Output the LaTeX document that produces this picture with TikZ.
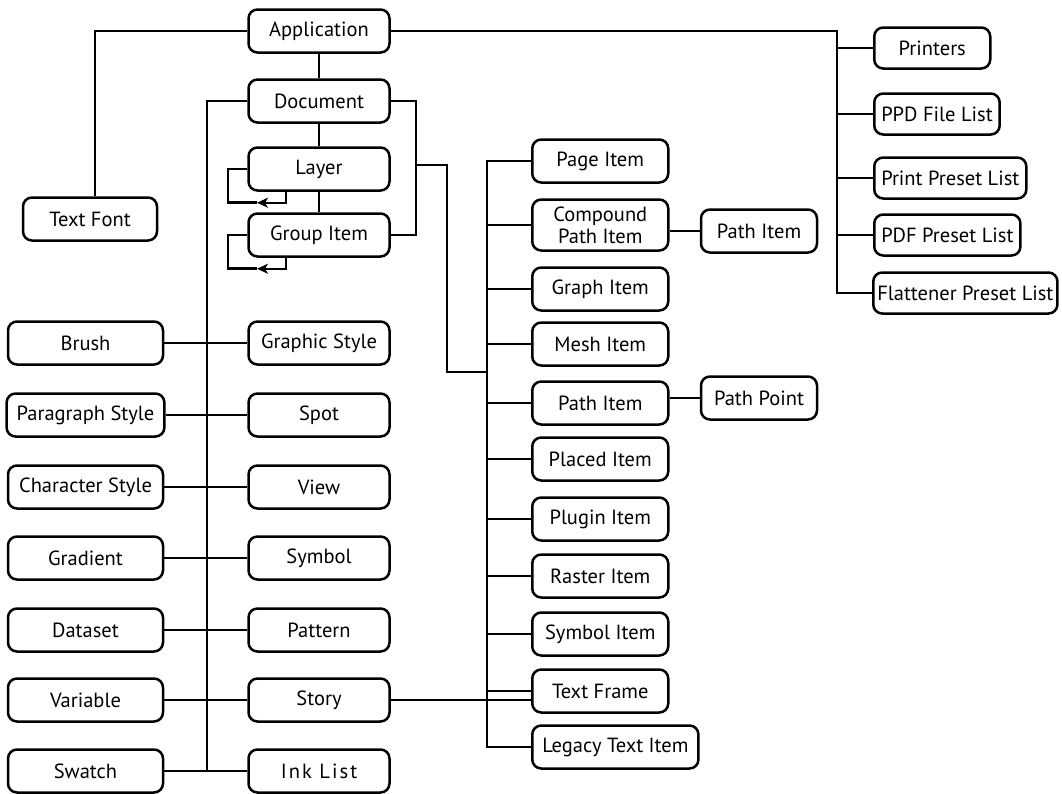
\documentclass[tikz,border=0pt]{standalone}
\usepackage{fontspec}
\setmainfont{PT Sans}
\usetikzlibrary{arrows.meta}

\tikzset{
  obj/.style={draw, rounded corners=9pt, line width=2.5pt, minimum height=43pt,
    inner xsep=10pt, inner ysep=2pt, align=center, font=\fontsize{20.5}{22}\selectfont},
  loop/.style={-{Stealth[length=11pt,width=10pt,inset=3pt]}},
}

\begin{document}
\begin{tikzpicture}[x=1pt, y=-1pt, line width=2.3pt]
\useasboundingbox (0,0) rectangle (1062,793);

\node[obj, minimum width=134pt] (tfont) at (90,219) {Text Font};
\foreach \n/\t/\y in {app/Application/31, doc/Document/101, layer/Layer/169, group/Group Item/235,
    gstyle/Graphic Style/343, spot/Spot/415, view/View/487, symbol/Symbol/558,
    pattern/Pattern/630, story/Story/700}
  \node[obj, minimum width=141pt] (\n) at (319,\y) {\t};
\node[obj, minimum width=141pt] (ink) at (319,771) {\addfontfeature{LetterSpace=10}Ink List};
\foreach \n/\t/\y in {brush/Brush/343, pstyle/Paragraph Style/415, cstyle/Character Style/487,
    grad/Gradient/558, data/Dataset/630, var/Variable/700, swatch/Swatch/771}
  \node[obj, minimum width=155pt] (\n) at (85.5,\y) {\t};
\foreach \n/\t/\y in {page/Page Item/161, graph/Graph Item/289, mesh/Mesh Item/344,
    path/Path Item/403, placed/Placed Item/459, plugin/Plugin Item/519, raster/Raster Item/576,
    symitem/Symbol Item/634, tframe/Text Frame/691, legacy/Legacy Text Item/747}
  \node[obj, anchor=west, minimum width=136pt] (\n) at (531,\y) {\t};
\node[obj, anchor=west, minimum width=136pt, minimum height=51pt] (cpath) at (531,225) {Compound\\Path Item};
\node[obj, minimum width=116pt] (pitem) at (759,231) {Path Item};
\node[obj, minimum width=116pt] (ppoint) at (759,398) {Path Point};
\foreach \n/\t/\y in {printers/Printers/48, ppd/PPD File List/114, printpreset/Print Preset List/178,
    pdfpreset/PDF Preset List/235}
  \node[obj, anchor=west, minimum width=116pt, minimum height=41pt, inner xsep=7pt] (\n) at (873,\y) {\t};
\node[obj, anchor=west, minimum height=41pt, inner xsep=4pt] (flat) at (872,293) {Flattener Preset List};

\coordinate (pj) at (837,293);
\coordinate (lj) at (207,771);
\coordinate (dj) at (416,165);
\coordinate (dk) at (447,372);
\coordinate (rs) at (487,372);

\draw (app) -- (doc) -- (layer) -- (group);
\draw (app.west) -| ([xshift=5pt]tfont.north);
\draw (app.east) -| (pj) -- (flat.west);
\foreach \n in {printers,ppd,printpreset,pdfpreset}
  \draw (\n.west) -- (\n.west -| pj);
\foreach \n in {layer,group}{
  \draw[loop] ([xshift=-33pt]\n.south) |- ++(-29,11);
  \draw (\n.west) -- ++(-19,0) |- ++(29,33.5);
}
\draw (doc.west) -| (lj);
\foreach \a/\b in {brush/gstyle, pstyle/spot, cstyle/view, grad/symbol, data/pattern, var/story, swatch/ink}
  \draw (\a) -- (\b);
\draw (doc.east) -| (dj) |- (group.east);
\draw (dj) -| (dk) -- (rs);
\draw (page.west) -| (rs) |- (legacy.west);
\foreach \n in {cpath,graph,mesh,path,placed,plugin,raster,symitem,tframe}
  \draw (\n.west) -- (\n.west -| rs);
\draw (story) -- (story -| tframe.west);
\draw (pitem) -- (pitem -| cpath.east);
\draw (ppoint) -- (ppoint -| path.east);
\end{tikzpicture}
\end{document}
